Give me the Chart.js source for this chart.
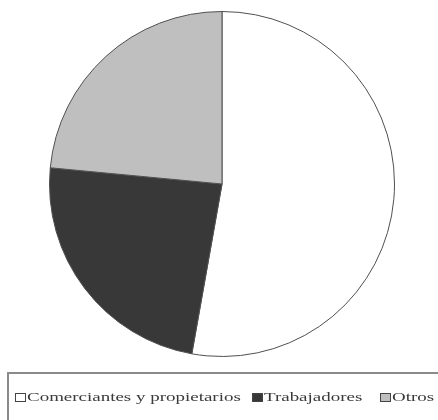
<!DOCTYPE html>
<html>
<head>
<meta charset="utf-8">
<script src="https://cdn.jsdelivr.net/npm/chart.js@4/dist/chart.umd.min.js"></script>
<style>
  html, body { margin: 0; padding: 0; background: #fff; }
  #wrap { position: relative; width: 438px; height: 420px; overflow: hidden; }
  #pie { position: absolute; left: 0; top: 0; }
  #legend {
    position: absolute; left: 7px; top: 372px; width: 460px; height: 80px;
    border: 2px solid #8a8a8a; box-sizing: border-box;
    font-family: "Liberation Serif", "DejaVu Serif", serif; font-size: 12px; color: #3a3a3a;
  }
  .item { position: absolute; top: 16px; white-space: nowrap; }
  .sw { position: absolute; top: 3px; width: 9px; height: 7px; border: 1px solid #444; }
  .txt { position: absolute; left: 12px; top: 0; transform: scaleX(1.58); transform-origin: left top; }
</style>
</head>
<body>
<div id="wrap">
  <canvas id="pie" width="438" height="420"></canvas>
  <div id="legend"></div>
</div>
<script>
  // categorías y valores (%)
  const categorias = ['Comerciantes y propietarios', 'Trabajadores', 'Otros']
  const valores = [52.8, 23.7, 23.5]
  const colores = ['#ffffff', '#383838', '#bfbfbf']

  new Chart(document.getElementById('pie'), {
    type: 'pie',
    data: {
      labels: categorias,
      datasets: [{
        data: valores,
        backgroundColor: colores,
        borderColor: '#505050',
        borderWidth: 1
      }]
    },
    options: {
      responsive: false,
      animation: false,
      layout: { padding: { left: 49, right: 43, top: 11, bottom: 63 } },
      plugins: {
        legend: { display: false },
        tooltip: { enabled: false }
      }
    }
  })

  // leyenda en HTML (texto real)
  const legendX = [6, 243, 371]
  const legend = document.getElementById('legend')
  categorias.forEach((cat, i) => {
    const item = document.createElement('div')
    item.className = 'item'
    item.style.left = legendX[i] + 'px'
    item.innerHTML = `<span class="sw" style="background:${colores[i]}"></span><span class="txt">${cat}</span>`
    legend.append(item)
  })
</script>
</body>
</html>
